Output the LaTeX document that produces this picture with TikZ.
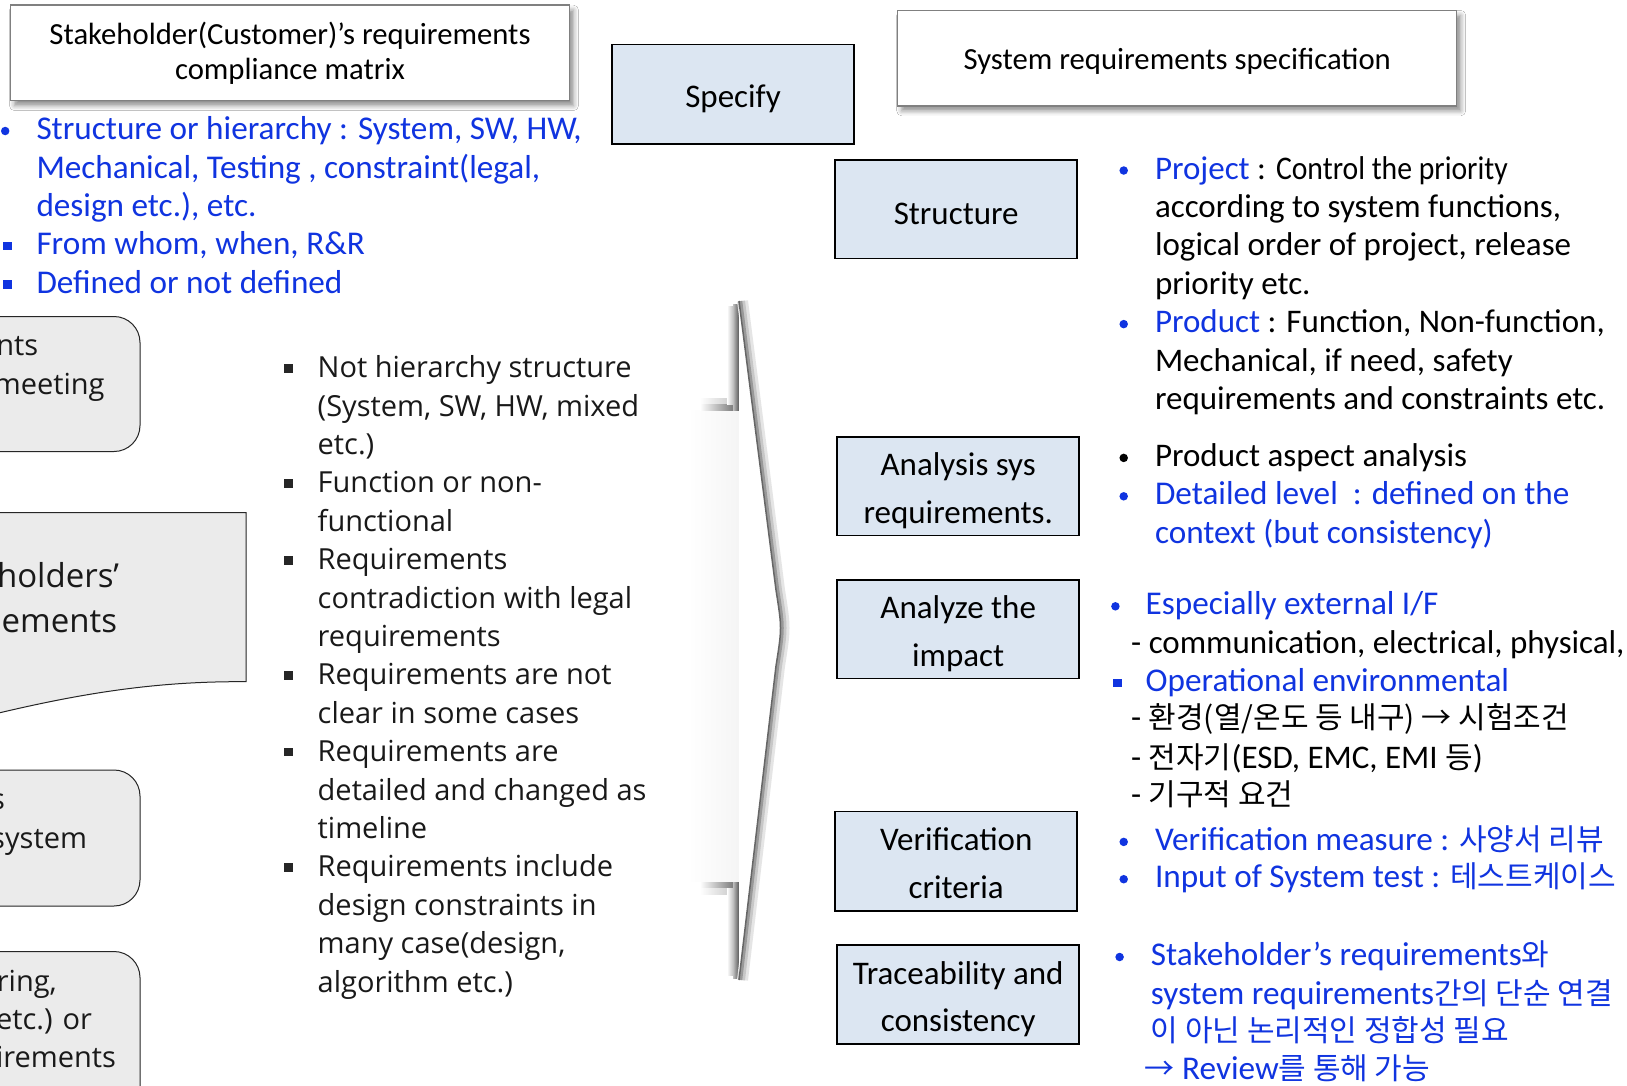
\documentclass[tikz,border=0pt]{standalone}
\usepackage{fontspec}
\setmainfont{Carlito}
\newfontfamily\osans{Open Sans}
\newfontfamily\krfont{Noto Sans CJK KR}
\usetikzlibrary{shadows.blur,fadings}
\definecolor{boxblue}{RGB}{220,230,242}
\definecolor{txtblue}{RGB}{16,52,224}
\definecolor{panelgray}{RGB}{235,235,235}
\tikzfading[name=fadeleft, left color=transparent!100, right color=transparent!0]
\newcommand\K[1]{{\krfont\fontsize{30}{38.4}\selectfont #1}}
\begin{document}
\begin{tikzpicture}[x=1pt,y=-1pt,
  stepbox/.style={draw=black, line width=1.7pt, fill=boxblue, minimum width=242pt,
    minimum height=98.6pt, align=center, inner sep=0pt, font=\fontsize{33}{47.7}\selectfont,
    execute at begin node={\rule{0pt}{32pt}}},
  steplbl/.style={align=center, inner sep=0pt, font=\fontsize{33}{47.7}\selectfont},
  titlebox/.style={draw=black!50, line width=1.5pt, fill=white, minimum width=559pt,
    minimum height=95.4pt, align=center, inner sep=0pt,
    execute at begin node={\rule{0pt}{27pt}},
    blur shadow={shadow xshift=4pt, shadow yshift=-5pt, shadow blur radius=5pt, shadow opacity=45}},
  panel/.style={draw=black!85, line width=1pt, fill=panelgray},
  bl/.style={anchor=base west, inner sep=0pt, text=txtblue, font=\fontsize{33.2}{38.4}\selectfont},
  rl/.style={anchor=base west, inner sep=0pt, font=\fontsize{33}{38.4}\selectfont},
  ml/.style={anchor=base west, inner sep=0pt, text=black!90, font=\osans\fontsize{29}{38.4}\selectfont},
  frag/.style={anchor=base east, inner sep=0pt, text=black!90, font=\osans\fontsize{29}{38.4}\selectfont},
  bigfrag/.style={frag, font=\osans\fontsize{33}{44.6}\selectfont},
  dotb/.style={circle, fill=#1, draw=none, inner sep=0pt, minimum size=8.5pt},
  sqb/.style={rectangle, fill=#1, draw=none, inner sep=0pt, minimum size=8.5pt},
]
\path[use as bounding box, fill=white] (0,0) rectangle (1627,1085);

% ---------- cut-off panels on the left edge ----------
\node[panel, rounded corners=26pt, minimum width=220pt, minimum height=135pt] (pa) at (30,384) {};
\node[frag] (pa1) at (38.4,355.5) {nts};
\node[frag] (pa2) at (104.8,394) {meeting};

\draw[panel] (-30,512.5) -- (246,512.5) -- (246,681.7)
  .. controls (150,681) and (70,695) .. (-30,720) -- cycle;
\coordinate (pb) at (120,600);
\node[bigfrag] (pb1) at (119.3,587.5) {holders’};
\node[bigfrag] (pb2) at (117.2,632) {ements};

\node[panel, rounded corners=26pt, minimum width=220pt, minimum height=136pt] (pc) at (30,838) {};
\node[frag] (pc1) at (5.2,809.5) {s};
\node[frag] (pc2) at (87.2,848.5) {system};

\node[panel, rounded corners=26pt, minimum width=220pt, minimum height=180pt] (pd) at (30,1041.5) {};
\node[frag] (pd1) at (57,991.8) {ring,};
\node[frag] (pd2) at (92.3,1029.2) {etc.) or};
\node[frag] (pd3) at (116.2,1067.5) {irements};

% ---------- title boxes ----------
\node[titlebox, font=\fontsize{30.7}{35.3}\selectfont] (cm) at (290,52.9)
  {Stakeholder(Customer)’s requirements\\compliance matrix};
\node[titlebox, font=\fontsize{30.7}{36}\selectfont] (srs) at (1177.2,58.1)
  {System requirements specification};

% ---------- blue notes under the compliance matrix ----------
\node[dotb=txtblue] (lb1) at (5.2,131) {};
\node[bl] (l1) at (36.3,139.7) {Structure or hierarchy : System, SW, HW,};
\node[bl] (l2) at (36.3,178.1) {Mechanical, Testing , constraint(legal,};
\node[bl] (l3) at (36.3,216.5) {design etc.), etc.};
\node[sqb=txtblue] (lb2) at (7.3,246) {};
\node[bl] (l4) at (36.3,254.9) {From whom, when, R\&R};
\node[sqb=txtblue] (lb3) at (7.3,284.4) {};
\node[bl] (l5) at (36.3,293.3) {Defined or not defined};

% ---------- issue list ----------
\foreach \yy in {367.3,482.5,559.3,674.4,751.2,866.4}
  \node[sqb=black!85] (mb-\yy) at (288.5,\yy+1) {};
\node[ml] (m1) at (317.5,377.7) {Not hierarchy structure};
\node[ml] (m2) at (317.5,416.1) {(System, SW, HW, mixed};
\node[ml] (m3) at (317.5,454.5) {etc.)};
\node[ml] (m4) at (317.5,492.9) {Function or non-};
\node[ml] (m5) at (317.5,531.3) {functional};
\node[ml] (m6) at (317.5,569.7) {Requirements};
\node[ml] (m7) at (317.5,608.1) {contradiction with legal};
\node[ml] (m8) at (317.5,646.4) {requirements};
\node[ml] (m9) at (317.5,684.8) {Requirements are not};
\node[ml] (m10) at (317.5,723.2) {clear in some cases};
\node[ml] (m11) at (317.5,761.6) {Requirements are};
\node[ml] (m12) at (317.5,800.0) {detailed and changed as};
\node[ml] (m13) at (317.5,838.4) {timeline};
\node[ml] (m14) at (317.5,876.8) {Requirements include};
\node[ml] (m15) at (317.5,915.2) {design constraints in};
\node[ml] (m16) at (317.5,953.6) {many case(design,};
\node[ml] (m17) at (317.5,992.0) {algorithm etc.)};

% ---------- big chevron arrow ----------
\fill[black!4, path fading=fadeleft] (690,410) rectangle (740,882);
% soft shadow on the notches
\shade[left color=white, right color=black!25] (700,398) rectangle (739,404);
\shade[left color=white, right color=black!60] (700,404) rectangle (739,410);
\shade[left color=white, right color=black!60] (700,882) rectangle (739,888);
\shade[left color=white, right color=black!25] (700,888) rectangle (739,894);
\shade[left color=white, right color=black!25] (727,306) rectangle (733,404);
\shade[left color=black!25, right color=black!65] (733,304) rectangle (739,410);
\shade[left color=black!25, right color=black!65] (733,882) rectangle (739,978);
\shade[left color=white, right color=black!25] (727,888) rectangle (733,975);
\def\headpath{(739,301) -- (776,590) .. controls (782,628) .. (776,666) -- (739,980)}
\draw[black!10, line width=11pt, xshift=3.5pt] \headpath;
\draw[black!22, line width=7pt, xshift=2.5pt] \headpath;
\draw[black!40, line width=3.5pt, xshift=1.5pt] \headpath;
\fill[white] (739,301) -- (776,590) .. controls (782,628) .. (776,666) -- (739,980) -- cycle;
\draw[black!60, line width=1.5pt] \headpath;

% ---------- step boxes ----------
\node[stepbox, minimum height=99.6pt] (spec) at (733.1,94.4) {Specify};
\node[stepbox] (struct) at (956.2,209.1) {Structure};
\node[stepbox, label={[steplbl, yshift=-4.5pt]center:{Analysis sys\\requirements.}}]
  (anasys) at (958.2,486.1) {};
\node[stepbox, label={[steplbl, yshift=-4.5pt]center:{Analyze the\\impact}}]
  (impact) at (958.2,629.3) {};
\node[stepbox, minimum height=99.6pt, label={[steplbl, yshift=-2pt]center:{Verification\\criteria}}]
  (verif) at (956.2,861.2) {};
\node[stepbox, label={[steplbl, yshift=-4.5pt]center:{Traceability and\\consistency}}]
  (trace) at (958.2,994.6) {};

% ---------- notes on the right ----------
\node[dotb=txtblue] (rb1) at (1123.7,170.5) {};
\node[rl] (r1) at (1154.8,179.1) {\textcolor{txtblue}{Project} : \scalebox{0.9}[1]{Control the priority}};
\node[rl] (r2) at (1154.8,217.5) {according to system functions,};
\node[rl] (r3) at (1154.8,255.9) {logical order of project, release};
\node[rl] (r4) at (1154.8,294.3) {priority etc.};
\node[dotb=txtblue] (rb2) at (1123.7,324.1) {};
\node[rl] (r5) at (1154.8,332.7) {\textcolor{txtblue}{Product} : Function, Non-function,};
\node[rl] (r6) at (1154.8,371.1) {Mechanical, if need, safety};
\node[rl] (r7) at (1154.8,409.5) {requirements and constraints etc.};

\node[dotb=black] (rb3) at (1123.7,457.9) {};
\node[rl] (r8) at (1154.8,466.5) {Product aspect analysis};
\node[dotb=txtblue] (rb4) at (1123.7,496.3) {};
\node[bl] (r9) at (1154.8,504.9) {Detailed level~~: defined on the};
\node[bl] (r10) at (1154.8,543.3) {context (but consistency)};

\node[dotb=txtblue] (rb5) at (1115.4,606.3) {};
\node[bl] (r11) at (1145.5,614.9) {Especially external I/F};
\node[rl] (r12) at (1131,653.3) {- communication, electrical, physical,};
\node[sqb=txtblue] (rb6) at (1117.5,683.1) {};
\node[bl] (r13) at (1145.5,691.7) {Operational environmental};
\node[rl] (r14) at (1131,728) {- \K{환경(열/온도 등 내구) → 시험조건}};
\node[rl] (r15) at (1131,768.5) {- \K{전자기}(ESD, EMC, EMI \K{등})};
\node[rl] (r16) at (1131,805.8) {- \K{기구적 요건}};

\node[dotb=txtblue] (rb7) at (1123.7,841.9) {};
\node[bl] (r17) at (1154.8,850.5) {Verification measure : \K{사양서 리뷰}};
\node[dotb=txtblue] (rb8) at (1123.7,879.2) {};
\node[bl] (r18) at (1154.8,887.8) {Input of System test : \K{테스트케이스}};

\node[dotb=txtblue] (rb9) at (1119.6,957) {};
\node[bl] (r19) at (1150.7,965.6) {Stakeholder’s requirements\K{와}};
\node[bl] (r20) at (1150.7,1004) {system requirements\K{간의 단순 연결}};
\node[bl] (r21) at (1150.7,1041.4) {\K{이 아닌 논리적인 정합성 필요}};
\node[bl] (r22) at (1144.5,1079.8) {\K{→} Review\K{를 통해 가능}};
\end{tikzpicture}
\end{document}
